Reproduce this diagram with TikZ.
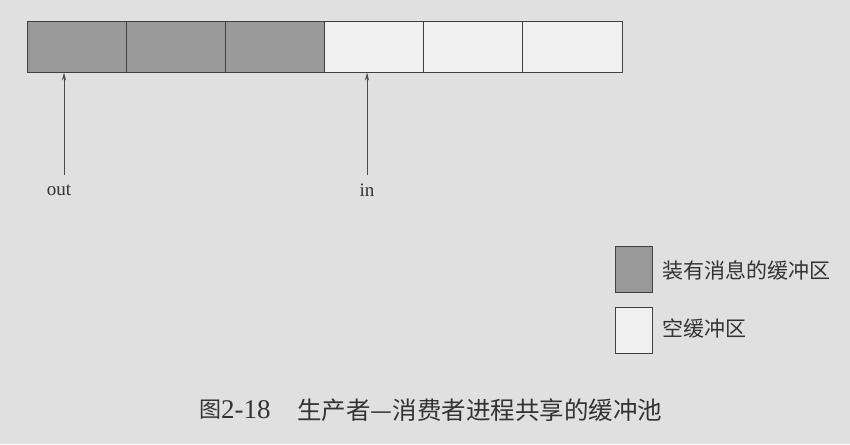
\documentclass[tikz,border=0pt]{standalone}
\usepackage{fontspec}
\setmainfont{Liberation Serif}
\newfontfamily\cjk{Noto Sans CJK SC}
\usetikzlibrary{arrows.meta}

\tikzset{
  fullcell/.style={draw=black!75, fill=black!40, line width=1pt, minimum width=99.2pt, minimum height=50pt, inner sep=0pt},
  emptycell/.style={fullcell, fill=black!6},
  keybox/.style={draw=black!75, line width=1pt, minimum width=37pt, minimum height=46pt, inner sep=0pt},
  ptr/.style={draw=black!70, line width=0.7pt, -{Stealth[length=8pt,width=4pt]}},
  lbl/.style={text=black!80, font=\fontsize{19}{22}\selectfont, inner sep=0pt}
}

\begin{document}
\begin{tikzpicture}[x=1pt,y=-1pt]
\fill[black!12] (0,0) rectangle (850,444);
\useasboundingbox (0,0) rectangle (850,444);
% buffer pool
\node[fullcell] (c1) at (76.6,47) {};
\node[fullcell] (c2) at (175.8,47) {};
\node[fullcell] (c3) at (274.9,47) {};
\node[emptycell] (c4) at (374.1,47) {};
\node[emptycell] (c5) at (473.3,47) {};
\node[emptycell] (c6) at (572.4,47) {};
% pointers
\node[lbl] (out) at (59,190) {out};
\node[lbl] (in) at (367,190) {in};
\coordinate (outtail) at (64,175);
\coordinate (intail) at (367,175);
\draw[ptr] (outtail) -- (c1.south -| outtail);
\draw[ptr] (intail) -- (c4.south -| intail);
% legend
\node[keybox, fill=black!40] (fullkey) at (633.5,269) {};
\node[keybox, fill=black!6] (emptykey) at (633.5,330.5) {};
\node[lbl, anchor=west, font=\cjk\fontsize{21}{24}\selectfont] (fulltext) at (662,270) {装有消息的缓冲区};
\node[lbl, anchor=west, font=\cjk\fontsize{21}{24}\selectfont] (emptytext) at (662,328) {空缓冲区};
% caption
\node[lbl, anchor=west, font=\cjk\fontsize{22}{26}\selectfont] (fignum) at (199,410) {图};
\node[lbl, anchor=west, font=\fontsize{27}{30}\selectfont] (fignr) at (221,410) {2-18};
\node[lbl, anchor=west, font=\cjk\fontsize{24.5}{28}\selectfont] (figtitle) at (297,410) {生产者—消费者进程共享的缓冲池};
\end{tikzpicture}
\end{document}
